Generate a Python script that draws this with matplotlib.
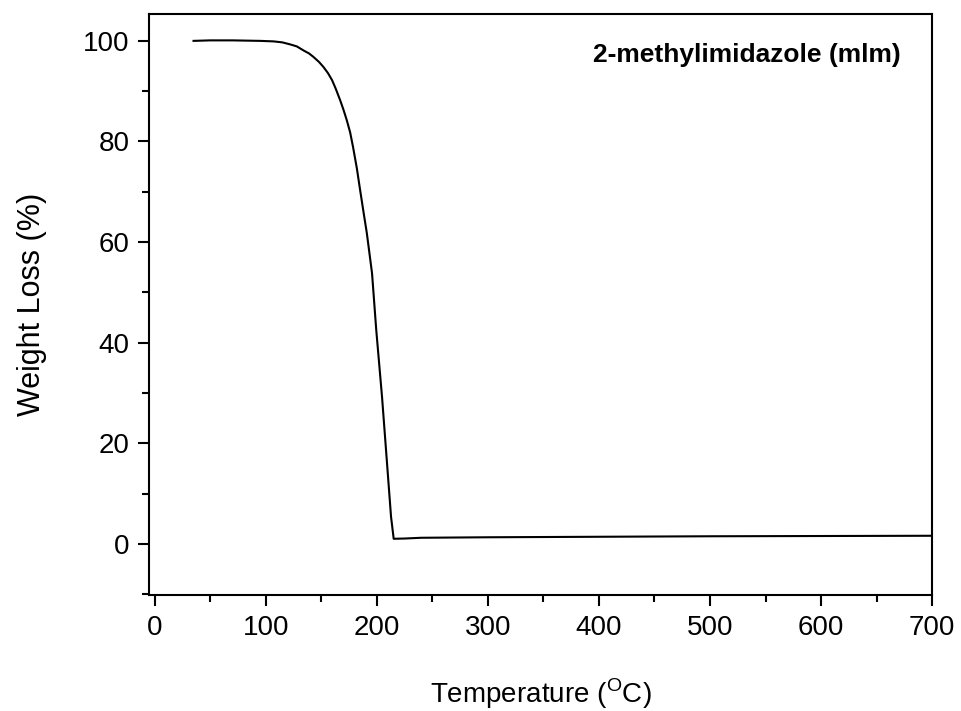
import numpy as np
import matplotlib
matplotlib.use("Agg")
import matplotlib.pyplot as plt
from matplotlib.ticker import MultipleLocator

plt.rcParams['font.family'] = ['Liberation Sans', 'DejaVu Sans']
plt.rcParams['mathtext.fontset'] = 'custom'
plt.rcParams['mathtext.rm'] = 'Liberation Sans'

# TGA curve
temp = [35, 50, 70, 95, 107, 115, 122, 128, 134, 139, 143, 148, 152, 156, 159.7, 163,
        167, 170, 173, 176, 178.6, 182, 185, 188, 191, 195.7, 199.5, 204.7, 209.2,
        212.8, 215.2, 225, 240, 300, 400, 500, 600, 700]
weight = [100.0, 100.1, 100.1, 100.0, 99.9, 99.7, 99.3, 98.9, 98.1, 97.5, 96.8, 95.8, 94.8, 93.6, 92.2, 90.5,
          88.2, 86.3, 84.2, 81.8, 78.9, 74.7, 70.3, 66.0, 61.8, 53.8, 42.5, 29.2, 16.0,
          5.4, 1.0, 1.05, 1.2, 1.3, 1.4, 1.5, 1.55, 1.6]

label = "2-methylimidazole (mlm)"

fig = plt.figure(figsize=(9.62, 7.11), dpi=100)
ax = fig.add_axes([0.155, 0.163, 0.814, 0.817])

ax.plot(temp, weight, color='black', lw=1.5)

ax.set_xlim(-5, 700)
ax.set_ylim(-10.2, 105.3)
ax.xaxis.set_major_locator(MultipleLocator(100))
ax.xaxis.set_minor_locator(MultipleLocator(50))
ax.yaxis.set_major_locator(MultipleLocator(20))
ax.yaxis.set_minor_locator(MultipleLocator(10))
ax.set_yticks([0, 20, 40, 60, 80, 100])

ax.tick_params(which='both', direction='out', width=1.5, labelsize=20, top=False, right=False)
ax.tick_params(which='major', length=8, pad=6)
ax.tick_params(which='minor', length=5)
for s in ax.spines.values():
    s.set_linewidth(1.5)

ax.set_xlabel("Temperature ($^{\\rm O}$C)", fontsize=20, labelpad=26)
ax.set_ylabel("Weight Loss (%)", fontsize=22, labelpad=26)

ax.text(0.96, 0.93, label, transform=ax.transAxes, ha='right', va='center',
        fontsize=19, fontweight='bold')

fig.savefig("out.png", dpi=100)
